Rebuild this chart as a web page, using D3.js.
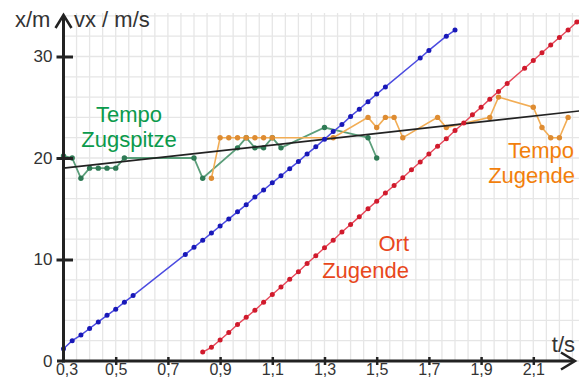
<!DOCTYPE html>
<html>
<head>
<meta charset="utf-8">
<script src="https://cdn.jsdelivr.net/npm/d3@7"></script>
<style>
  body { margin: 0; background: #fff; }
  svg { display: block; font-family: "Liberation Sans", Arial, sans-serif; }
</style>
</head>
<body>
<div id="chart"></div>
<script>
// --- data ---
// blue: Ort Zugspitze (m)
var blueT = [0.3, 0.3333, 0.3667, 0.4, 0.4333, 0.4667, 0.5, 0.5333, 0.5667,
  0.7667, 0.8, 0.8333, 0.8667, 0.9, 0.9333, 0.9667, 1.0, 1.0333, 1.0667, 1.1, 1.1333,
  1.1667, 1.2, 1.2333, 1.2667, 1.3, 1.3333, 1.3667, 1.4, 1.4333, 1.4667, 1.5, 1.5333,
  1.6667, 1.7, 1.7667, 1.8];
var blueX = [1.2, 2.0, 2.55, 3.2, 3.85, 4.5, 5.1, 5.8, 6.45,
  10.5, 11.2, 11.9, 12.6, 13.3, 14.0, 14.7, 15.4, 16.15, 16.85, 17.55, 18.25,
  18.95, 19.65, 20.4, 21.1, 21.85, 22.6, 23.3, 24.1, 24.8, 25.55, 26.3, 27.0,
  29.85, 30.6, 32.0, 32.6];

// red: Ort Zugende (m)
var redT = [0.8333, 0.8667, 0.9, 0.9333, 0.9667, 1.0, 1.0333, 1.0667, 1.1, 1.1333,
  1.1667, 1.2, 1.2333, 1.2667, 1.3, 1.3333, 1.3667, 1.4, 1.4333, 1.4667, 1.5, 1.5333,
  1.5667, 1.6, 1.6333, 1.6667, 1.7, 1.7333, 1.7667, 1.8, 1.8333, 1.8667, 1.9, 1.9333,
  1.9667, 2.0, 2.0667, 2.1, 2.1333, 2.1667, 2.2, 2.2333, 2.2667, 2.3];
var redX = [0.88, 1.35, 2.07, 2.8, 3.6, 4.3, 5.0, 5.78, 6.55, 7.3,
  8.05, 8.8, 9.6, 10.37, 11.15, 11.9, 12.7, 13.45, 14.2, 15.0, 15.75, 16.55,
  17.3, 18.05, 18.85, 19.6, 20.4, 21.15, 21.9, 22.7, 23.45, 24.25, 25.0, 25.8,
  26.55, 27.35, 28.85, 29.6, 30.37, 31.13, 31.88, 32.62, 33.4, 34.15];

// green: Tempo Zugspitze (m/s)
var greenT = [0.3, 0.3333, 0.3667, 0.4, 0.4333, 0.4667, 0.5, 0.5333, 0.8, 0.8333,
  0.9667, 1.0, 1.0333, 1.0667, 1.1, 1.1333, 1.3, 1.4667, 1.5];
var greenV = [20.2, 20, 18, 19, 19, 19, 19, 20, 20, 18,
  21, 22, 21, 21, 22, 21, 23, 22, 20];

// orange: Tempo Zugende (m/s)
var orangeT = [0.8667, 0.9, 0.9333, 0.9667, 1.0, 1.0333, 1.0667, 1.1, 1.3333, 1.4667,
  1.5, 1.5333, 1.5667, 1.6, 1.7333, 1.7667, 1.9333, 1.9667, 2.1, 2.1333, 2.1667, 2.2, 2.2333];
var orangeV = [18, 22, 22, 22, 22, 22, 22, 22, 22, 24,
  23, 24, 24, 22, 24, 23, 24, 26, 25, 23, 22, 22, 24];

// black: fitted speed line
var fitT = [0.3, 2.3];
var fitV = [19.0, 24.7];

var xTicks = [0.3, 0.5, 0.7, 0.9, 1.1, 1.3, 1.5, 1.7, 1.9, 2.1];
var yTicks = [0, 10, 20, 30];

var width = 579, height = 378;

var svg = d3.select("#chart").append("svg")
  .attr("width", width)
  .attr("height", height);

var x = d3.scaleLinear().domain([0.3, 2.3]).range([63.5, 585.5]);
var y = d3.scaleLinear().domain([0, 30]).range([361, 56.5]);

// grid
var grid = svg.append("g").attr("stroke", "#e6e6e6").attr("stroke-width", 1.3);
grid.selectAll("line.v")
  .data(d3.range(0, 40).map(function(i) { return 0.3 + i * 0.05; }))
  .enter().append("line")
  .attr("x1", function(d) { return x(d); })
  .attr("x2", function(d) { return x(d); })
  .attr("y1", y(0))
  .attr("y2", 13);
grid.selectAll("line.h")
  .data(d3.range(0, 35, 2))
  .enter().append("line")
  .attr("x1", x(0.3))
  .attr("x2", width)
  .attr("y1", function(d) { return y(d); })
  .attr("y2", function(d) { return y(d); });

// series
function series(ts, vs, lineColor, dotColor, r, sw) {
  var pts = ts.map(function(t, i) { return [t, vs[i]]; });
  var line = d3.line()
    .x(function(d) { return x(d[0]); })
    .y(function(d) { return y(d[1]); });
  svg.append("path")
    .datum(pts)
    .attr("d", line)
    .attr("fill", "none")
    .attr("stroke", lineColor)
    .attr("stroke-width", sw);
  svg.append("g").selectAll("circle")
    .data(pts)
    .enter().append("circle")
    .attr("cx", function(d) { return x(d[0]); })
    .attr("cy", function(d) { return y(d[1]); })
    .attr("r", r)
    .attr("fill", dotColor);
}

series(greenT, greenV, "#5b9e7a", "#2f7a55", 2.7, 1.8);
series(orangeT, orangeV, "#f2ad55", "#de8c32", 2.7, 1.6);

svg.append("path")
  .datum(fitT.map(function(t, i) { return [t, fitV[i]]; }))
  .attr("d", d3.line().x(function(d) { return x(d[0]); }).y(function(d) { return y(d[1]); }))
  .attr("fill", "none")
  .attr("stroke", "#222")
  .attr("stroke-width", 1.7);

series(blueT, blueX, "#4b4be0", "#1818b8", 2.5, 1.5);
series(redT, redX, "#e6485a", "#d01a2c", 2.5, 1.4);

// axes
var axisColor = "#222";

var xAxis = svg.append("g")
  .attr("transform", "translate(0," + y(0) + ")")
  .call(d3.axisBottom(x).tickValues(xTicks).tickFormat(function(d) {
    return d.toFixed(1).replace(".", ",");
  }));
xAxis.select(".domain").remove();
xAxis.selectAll(".tick line")
  .attr("y1", -4).attr("y2", 4)
  .attr("stroke", axisColor).attr("stroke-width", 2.5)
  .filter(function(d) { return d === 0.3; }).remove();
xAxis.selectAll(".tick text")
  .attr("y", 13.5).attr("dy", null)
  .attr("fill", "#333")
  .style("font-size", "16px")
  .attr("dx", function(d) { return d === 0.3 ? 3 : 0; });

var yAxis = svg.append("g")
  .attr("transform", "translate(" + x(0.3) + ",0)")
  .call(d3.axisLeft(y).tickValues(yTicks));
yAxis.select(".domain").remove();
yAxis.selectAll(".tick line")
  .attr("x1", -7).attr("x2", 9.5)
  .attr("stroke", axisColor).attr("stroke-width", 3)
  .filter(function(d) { return d === 0; }).remove();
yAxis.selectAll(".tick text")
  .attr("x", -11)
  .attr("fill", "#333")
  .style("font-size", "17px");

// axis lines with arrows
svg.append("line")
  .attr("x1", 57).attr("x2", 574)
  .attr("y1", y(0)).attr("y2", y(0))
  .attr("stroke", axisColor).attr("stroke-width", 3);
svg.append("path")
  .attr("d", "M561,352.5 L575,361 L561,369.5")
  .attr("fill", "none").attr("stroke", axisColor).attr("stroke-width", 2.5);
svg.append("line")
  .attr("x1", x(0.3)).attr("x2", x(0.3))
  .attr("y1", y(0) + 1.5).attr("y2", 16)
  .attr("stroke", axisColor).attr("stroke-width", 3);
svg.append("path")
  .attr("d", "M55.5,28 L63.5,15 L71.5,28")
  .attr("fill", "none").attr("stroke", axisColor).attr("stroke-width", 2.5);

// axis titles
svg.append("text").attr("x", 15).attr("y", 27)
  .style("font-size", "22px").attr("fill", "#333").text("x/m");
svg.append("text").attr("x", 74).attr("y", 27)
  .style("font-size", "22px").attr("fill", "#333").text("vx / m/s");
svg.append("text").attr("x", 575).attr("y", 352)
  .attr("text-anchor", "end")
  .style("font-size", "22px").attr("fill", "#333").text("t/s");

// series labels
function label(txt, px, py, anchor, color) {
  svg.append("text")
    .attr("x", px).attr("y", py)
    .attr("text-anchor", anchor)
    .style("font-size", "22px")
    .attr("fill", color)
    .text(txt);
}
label("Tempo", 129, 122, "middle", "#0b9a4c");
label("Zugspitze", 129, 147, "middle", "#0b9a4c");
label("Tempo", 574, 158, "end", "#f27f0c");
label("Zugende", 575, 183, "end", "#f27f0c");
label("Ort", 409, 251, "end", "#e8471c");
label("Zugende", 409, 278, "end", "#e8471c");
</script>
</body>
</html>
